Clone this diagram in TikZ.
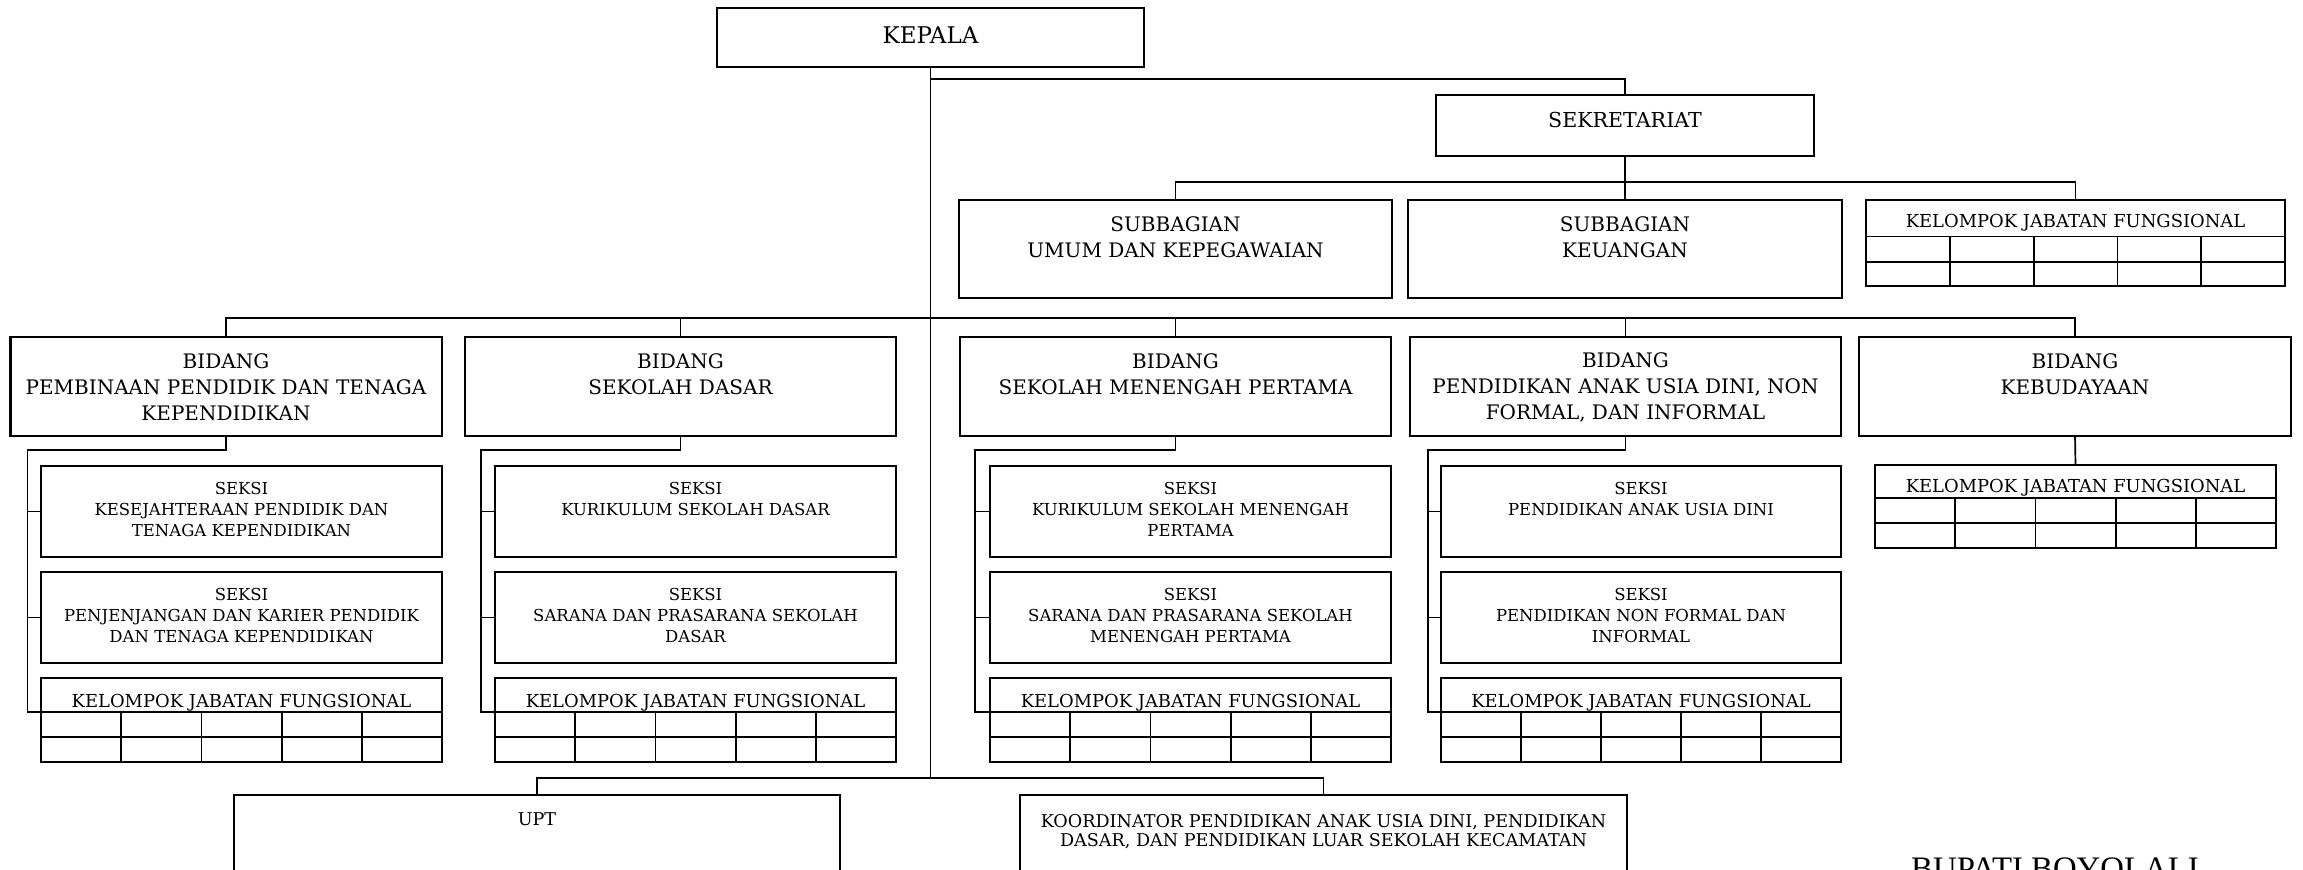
\documentclass[tikz,border=0pt]{standalone}
\usepackage{fontspec}
\setmainfont{DejaVu Serif}
\newfontfamily\bupfont{Liberation Serif}
\newcommand\mkbox[5]{\node[box, anchor=north west, minimum width={(#4-#2)*0.5pt}, minimum height={(#5-#3)*0.5pt}] (#1) at (#2,#3) {};}
\newcommand\mkkjf[8]{%
  \mkbox{#1}{#2}{#3}{#4}{#5}
  \coordinate (#1h) at (#2,#6);
  \draw[tbl] (#2,#6) -- (#4,#6) (#2,#7) -- (#4,#7);
  \foreach \i in {1,2,3,4} {\draw[tbl] ({#2+(#4-#2)*\i/5},#6) -- ({#2+(#4-#2)*\i/5},#5);}
  \node[kjt] (#1t) at ({(#2+#4)/2},#8) {KELOMPOK JABATAN FUNGSIONAL};
}
\begin{document}
\begin{tikzpicture}[x=0.5pt,y=-0.5pt,
  box/.style={draw, rectangle, line width=1.3pt, inner sep=0pt, outer sep=0pt},
  conn/.style={line width=0.85pt},
  tbl/.style={line width=0.9pt},
  ttl/.style={align=center, inner sep=0pt, font=\fontsize{10pt}{13pt}\selectfont},
  sks/.style={align=center, inner sep=0pt, font=\fontsize{8.25pt}{10.5pt}\selectfont},
  kjt/.style={inner sep=0pt, font=\fontsize{8.95pt}{10pt}\selectfont},
  sml/.style={align=center, inner sep=0pt, font=\fontsize{8.8pt}{9.8pt}\selectfont}]
\useasboundingbox (0,0) rectangle (2303,870);
\fill[white] (0,0) rectangle (2303,870);

% top level
\mkbox{kepala}{717}{8}{1144}{67}
\node[ttl, font=\fontsize{11.5pt}{13pt}\selectfont] (kepalat) at (930.5,35.5) {KEPALA};
\mkbox{sekr}{1436}{95}{1814}{156}
\node[ttl, font=\fontsize{10.3pt}{13pt}\selectfont] (sekrt) at (1625,120) {SEKRETARIAT};
\mkbox{umum}{959}{200}{1392}{298}
\node[ttl] (umumt) at (1175.5,237.5) {SUBBAGIAN\\UMUM DAN KEPEGAWAIAN};
\mkbox{keu}{1408}{200}{1842}{298}
\node[ttl] (keut) at (1625,237.5) {SUBBAGIAN\\KEUANGAN};
\mkkjf{kjf0}{1866}{200}{2285}{286}{236.5}{262}{222.5}

% bidang
\mkbox{b1}{10.5}{337}{442}{436}
\node[ttl] (b1t) at (226,387) {BIDANG\\PEMBINAAN PENDIDIK DAN TENAGA\\KEPENDIDIKAN};
\mkbox{b2}{465}{337}{896}{436}
\node[ttl] (b2t) at (680.5,374) {BIDANG\\SEKOLAH DASAR};
\mkbox{b3}{960}{337}{1391}{436}
\node[ttl] (b3t) at (1175.5,374) {BIDANG\\SEKOLAH MENENGAH PERTAMA};
\mkbox{b4}{1410}{337}{1841}{436}
\node[ttl] (b4t) at (1625.5,387) {BIDANG\\PENDIDIKAN ANAK USIA DINI, NON\\FORMAL, DAN INFORMAL};
\mkbox{b5}{1859}{337}{2291}{436}
\node[ttl] (b5t) at (2075,374) {BIDANG\\KEBUDAYAAN};

% seksi
\mkbox{s11}{41}{466}{442}{557}
\node[sks] (s11t) at (241.5,509) {SEKSI\\KESEJAHTERAAN PENDIDIK DAN\\TENAGA KEPENDIDIKAN};
\mkbox{s12}{41}{572}{442}{663}
\node[sks] (s12t) at (241.5,615) {SEKSI\\PENJENJANGAN DAN KARIER PENDIDIK\\DAN TENAGA KEPENDIDIKAN};
\mkkjf{k1}{41}{678}{442}{762}{712}{737}{703}

\mkbox{s21}{495}{466}{896}{557}
\node[sks] (s21t) at (695.5,498.5) {SEKSI\\KURIKULUM SEKOLAH DASAR};
\mkbox{s22}{495}{572}{896}{663}
\node[sks] (s22t) at (695.5,615) {SEKSI\\SARANA DAN PRASARANA SEKOLAH\\DASAR};
\mkkjf{k2}{495}{678}{896}{762}{712}{737}{703}

\mkbox{s31}{990}{466}{1391}{557}
\node[sks] (s31t) at (1190.5,509) {SEKSI\\KURIKULUM SEKOLAH MENENGAH\\PERTAMA};
\mkbox{s32}{990}{572}{1391}{663}
\node[sks] (s32t) at (1190.5,615) {SEKSI\\SARANA DAN PRASARANA SEKOLAH\\MENENGAH PERTAMA};
\mkkjf{k3}{990}{678}{1391}{762}{712}{737}{703}

\mkbox{s41}{1441}{466}{1841}{557}
\node[sks] (s41t) at (1641,498.5) {SEKSI\\PENDIDIKAN ANAK USIA DINI};
\mkbox{s42}{1441}{572}{1841}{663}
\node[sks] (s42t) at (1641,615) {SEKSI\\PENDIDIKAN NON FORMAL DAN\\INFORMAL};
\mkkjf{k4}{1441}{678}{1841}{762}{712}{737}{703}

\mkkjf{k5}{1875}{465}{2276}{548}{498}{523}{488}

% bottom
\mkbox{upt}{234}{795}{840}{905}
\node[sml] (uptt) at (537,819.5) {UPT};
\mkbox{koord}{1020}{795}{1627}{905}
\node[sml] (koordt) at (1323.5,831.5) {KOORDINATOR PENDIDIKAN ANAK USIA DINI, PENDIDIKAN\\DASAR, DAN PENDIDIKAN LUAR SEKOLAH KECAMATAN};

\node[font=\bupfont\fontsize{16.4pt}{18pt}\selectfont, anchor=base, inner sep=0pt] (bup) at (2055,879.7) {BUPATI BOYOLALI};

% connectors
\coordinate (jtop) at (930.5,79);
\coordinate (jmid) at (930.5,318);
\coordinate (jbot) at (930.5,778);
\coordinate (jsek) at (1625,182);
\draw[conn] (kepala.south) -- (jbot);
\draw[conn] (jtop) -| (sekr.north);
\draw[conn] (sekr.south) -- (keu.north);
\draw[conn] (umum.north) |- (jsek) -| (kjf0.north);
\draw[conn] (b1.north) |- (jmid) -| (b5.north);
\draw[conn] (b2.north) -- (b2.north |- jmid);
\draw[conn] (b3.north) -- (b3.north |- jmid);
\draw[conn] (b4.north) -- (b4.north |- jmid);
\draw[conn] (upt.north) |- (jbot) -| (koord.north);
\draw[conn] (b5.south) -- (k5.north);

\coordinate (v1) at (27.6,450);
\coordinate (v2) at (481,450);
\coordinate (v3) at (975,450);
\coordinate (v4) at (1428,450);
\foreach \b/\s/\t/\k/\v in {b1/s11/s12/k1/v1, b2/s21/s22/k2/v2, b3/s31/s32/k3/v3, b4/s41/s42/k4/v4} {
  \draw[conn] (\b.south) |- (\v) |- (\k h);
  \draw[conn] (\v |- \s.west) -- (\s.west);
  \draw[conn] (\v |- \t.west) -- (\t.west);
}
\end{tikzpicture}
\end{document}
